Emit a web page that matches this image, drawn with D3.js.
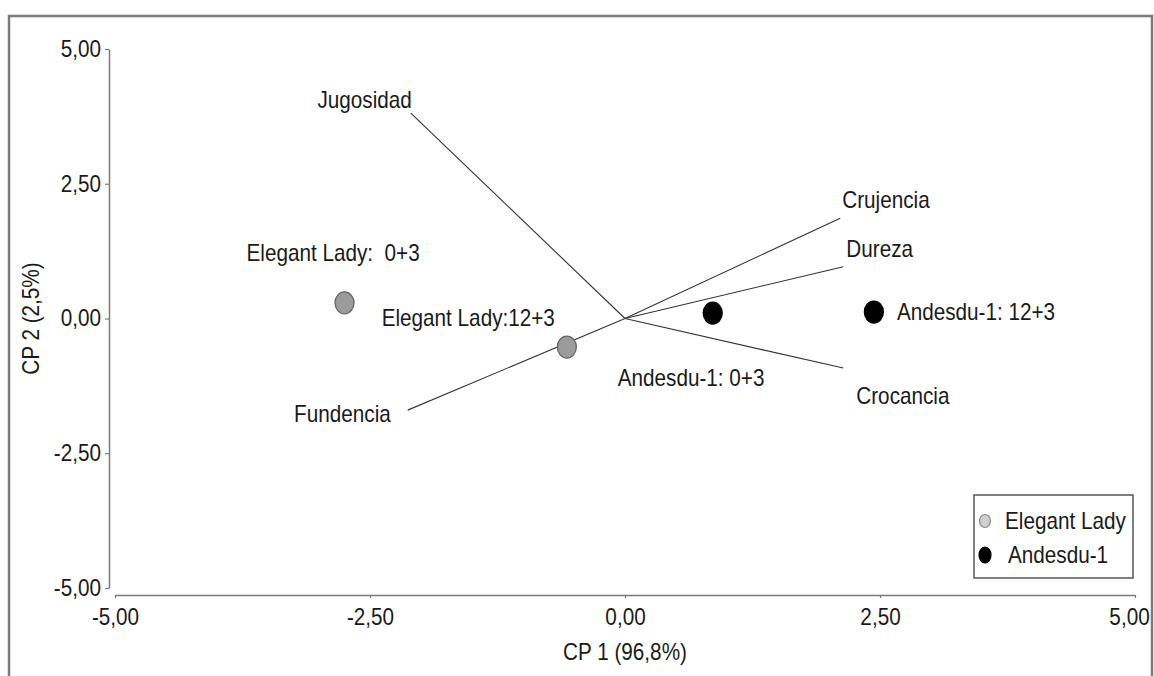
<!DOCTYPE html>
<html>
<head>
<meta charset="utf-8">
<script src="https://cdn.jsdelivr.net/npm/d3@7"></script>
<style>
  body { margin: 0; background: #fff; }
  svg text { font-family: "Liberation Sans", Arial, sans-serif; fill: #1a1a1a; white-space: pre; }
</style>
</head>
<body>
<svg id="chart" width="1154" height="676"></svg>
<script>
// axis ticks
const tickValues = [-5, -2.5, 0, 2.5, 5];

// loading vectors (CP1, CP2)
const vectorNames = ['Jugosidad', 'Crujencia', 'Dureza', 'Crocancia', 'Fundencia'];
const vectorCP1 = [-2.10, 2.11, 2.14, 2.14, -2.13];
const vectorCP2 = [3.81, 1.86, 0.96, -0.92, -1.70];

// samples
const pointNames = ['Elegant Lady:  0+3', 'Elegant Lady:12+3', 'Andesdu-1: 0+3', 'Andesdu-1: 12+3'];
const pointGroup = ['Elegant Lady', 'Elegant Lady', 'Andesdu-1', 'Andesdu-1'];
const pointCP1 = [-2.75, -0.57, 0.86, 2.44];
const pointCP2 = [0.29, -0.53, 0.10, 0.12];

const groups = ['Elegant Lady', 'Andesdu-1'];

// label placement (pixels, relative to the mark)
const vectorLabelPos = [
  { anchor: 'end', dx: 1, dy: -13 },
  { anchor: 'start', dx: 2, dy: -18 },
  { anchor: 'start', dx: 3, dy: -18 },
  { anchor: 'start', dx: 13, dy: 28 },
  { anchor: 'end', dx: -17, dy: 4 }
];
const pointLabelPos = [
  { anchor: 'start', dx: -98, dy: -50 },
  { anchor: 'end', dx: -12, dy: -29 },
  { anchor: 'start', dx: -95, dy: 65 },
  { anchor: 'start', dx: 23, dy: 0 }
];

const svg = d3.select('#chart');
const fontSize = 23;
const squeeze = 'scale(0.9,1)'; // the original text is a bit narrow and tall

const x = d3.scaleLinear().domain([-5, 5]).range([115, 1135]);
const y = d3.scaleLinear().domain([-5, 5]).range([588, 49]);

const fmt = d3.formatLocale({ decimal: ',', thousands: '.', grouping: [3], currency: ['', ''], minus: '-' }).format('.2f');
const fill = d3.scaleOrdinal().domain(groups).range(['#9b9b9b', '#000']);

// put a text at (px, py) with the narrow look
function place(sel, px, py) {
  return sel.attr('transform', (d, i) => `translate(${px(d, i)},${py(d, i)}) ${squeeze}`)
    .attr('dy', '0.35em')
    .attr('font-size', fontSize);
}

// outer frame
svg.append('rect')
  .attr('x', 9).attr('y', 16).attr('width', 1143).attr('height', 700)
  .attr('fill', 'none').attr('stroke', '#7a7a7a').attr('stroke-width', 2.5);

// axes
const yAxis = svg.append('g')
  .attr('transform', 'translate(109,0)')
  .call(d3.axisLeft(y).tickValues(tickValues).tickSize(4).tickSizeOuter(0).tickPadding(4).tickFormat(fmt));

const xAxis = svg.append('g')
  .attr('transform', 'translate(0,595)')
  .call(d3.axisBottom(x).tickValues(tickValues).tickSize(3).tickSizeOuter(0).tickPadding(11).tickFormat(fmt));

[xAxis, yAxis].forEach(g => {
  g.select('.domain').attr('stroke', '#7a7a7a').attr('stroke-width', 1.5);
  g.selectAll('.tick line').attr('stroke', '#7a7a7a').attr('stroke-width', 1.2);
  g.selectAll('.tick text').attr('font-size', fontSize).attr('fill', '#1a1a1a')
    .style('font-family', '"Liberation Sans", Arial, sans-serif');
});
yAxis.selectAll('.tick text').attr('x', null).attr('transform', `translate(-8,0) ${squeeze}`);
// last x label sits a little left so it stays inside the frame
xAxis.selectAll('.tick text')
  .attr('transform', d => d === 5 ? `translate(-6,0) ${squeeze}` : squeeze);

// axis titles
svg.append('text')
  .call(place, () => x(0), () => 652)
  .attr('text-anchor', 'middle')
  .text('CP 1 (96,8%)');

svg.append('text')
  .attr('transform', `translate(31,${y(0)}) rotate(-90) ${squeeze}`)
  .attr('dy', '0.35em')
  .attr('text-anchor', 'middle').attr('font-size', fontSize)
  .text('CP 2 (2,5%)');

// loading vectors
const vectors = vectorNames.map((name, i) => ({ name, cp1: vectorCP1[i], cp2: vectorCP2[i], pos: vectorLabelPos[i] }));

svg.append('g').selectAll('line')
  .data(vectors)
  .join('line')
  .attr('x1', x(0)).attr('y1', y(0))
  .attr('x2', d => x(d.cp1)).attr('y2', d => y(d.cp2))
  .attr('stroke', '#333').attr('stroke-width', 1.1);

svg.append('g').selectAll('text')
  .data(vectors)
  .join('text')
  .call(place, d => x(d.cp1) + d.pos.dx, d => y(d.cp2) + d.pos.dy)
  .attr('text-anchor', d => d.pos.anchor)
  .text(d => d.name);

// sample points
const points = pointNames.map((name, i) => ({ name, group: pointGroup[i], cp1: pointCP1[i], cp2: pointCP2[i], pos: pointLabelPos[i] }));

svg.append('g').selectAll('ellipse')
  .data(points)
  .join('ellipse')
  .attr('cx', d => x(d.cp1)).attr('cy', d => y(d.cp2))
  .attr('rx', 9.5).attr('ry', 11)
  .attr('fill', d => fill(d.group))
  .attr('stroke', d => d.group === 'Andesdu-1' ? '#000' : '#666')
  .attr('stroke-width', 1.3);

svg.append('g').selectAll('text')
  .data(points)
  .join('text')
  .call(place, d => x(d.cp1) + d.pos.dx, d => y(d.cp2) + d.pos.dy)
  .attr('text-anchor', d => d.pos.anchor)
  .text(d => d.name);

// legend
const legend = svg.append('g').attr('transform', 'translate(974,495)');
legend.append('rect')
  .attr('width', 159).attr('height', 83)
  .attr('fill', '#fff').attr('stroke', '#555').attr('stroke-width', 1.5);

const legendItems = legend.selectAll('g.item')
  .data(groups)
  .join('g')
  .attr('class', 'item')
  .attr('transform', (d, i) => `translate(11,${26 + i * 34})`);

legendItems.append('ellipse')
  .attr('rx', (d, i) => i === 0 ? 5.5 : 6)
  .attr('ry', (d, i) => i === 0 ? 6.5 : 8)
  .attr('fill', (d, i) => i === 0 ? '#cfcfcf' : '#000')
  .attr('stroke', (d, i) => i === 0 ? '#888' : '#000')
  .attr('stroke-width', 1.2);

legendItems.append('text')
  .call(place, (d, i) => i === 0 ? 20 : 23, () => 0)
  .text(d => d);
</script>
</body>
</html>
